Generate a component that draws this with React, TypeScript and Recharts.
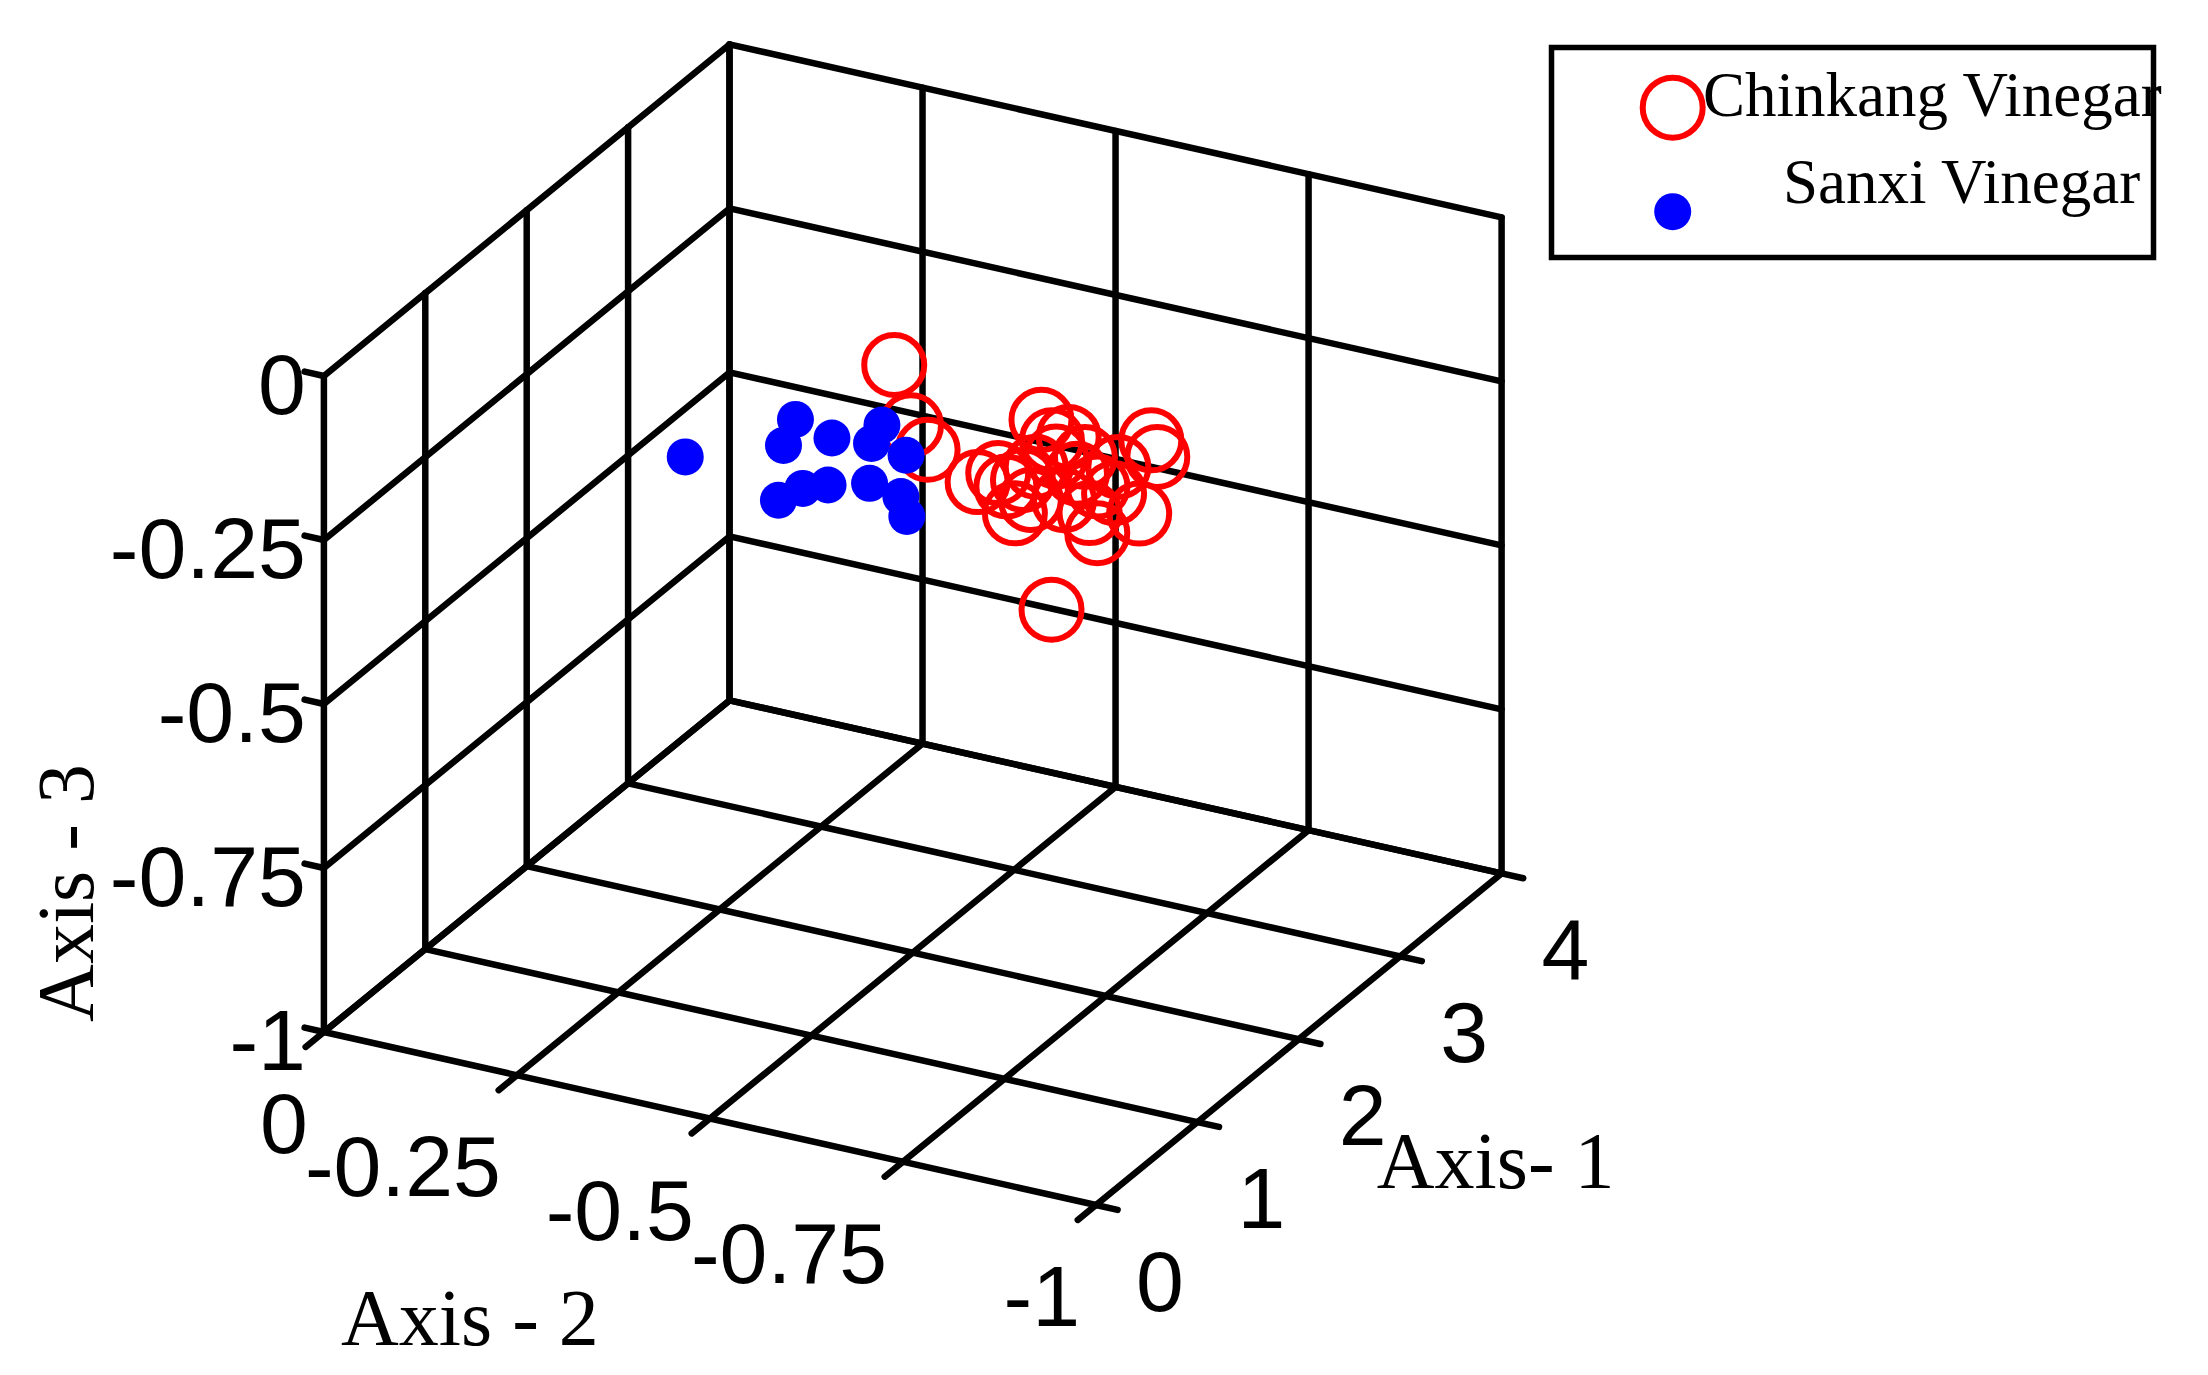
import { ScatterChart, Scatter, XAxis, YAxis, ReferenceLine } from "recharts";

const W = 2208;
const H = 1375;

// tick values of the three axes
const axis1Ticks = [0, 1, 2, 3, 4];
const axis2Ticks = [0, -0.25, -0.5, -0.75, -1];
const axis3Ticks = [0, -0.25, -0.5, -0.75, -1];
const axis1Labels = ["0", "1", "2", "3", "4"];
const axis2Labels = ["0", "-0.25", "-0.5", "-0.75", "-1"];
const axis3Labels = ["0", "-0.25", "-0.5", "-0.75", "-1"];

// [Axis-1, Axis-2, Axis-3]
const chinkang: [number, number, number][] = [
  [3.5, -0.279, -0.352],
  [3.3, -0.327, -0.406],
  [3.7, -0.296, -0.502],
  [3.5, -0.387, -0.502],
  [3.3, -0.496, -0.353],
  [3.7, -0.457, -0.445],
  [3.5, -0.612, -0.379],
  [3.3, -0.646, -0.37],
  [3.7, -0.57, -0.527],
  [3.5, -0.542, -0.539],
  [3.3, -0.509, -0.639],
  [3.7, -0.398, -0.531],
  [3.5, -0.456, -0.511],
  [3.3, -0.542, -0.423],
  [3.7, -0.516, -0.5],
  [3.5, -0.499, -0.5],
  [3.3, -0.59, -0.44],
  [3.7, -0.409, -0.569],
  [3.5, -0.532, -0.511],
  [3.3, -0.515, -0.404],
  [3.7, -0.436, -0.491],
  [3.5, -0.526, -0.427],
  [3.3, -0.44, -0.449],
  [3.7, -0.543, -0.463],
  [3.5, -0.505, -0.402],
  [3.3, -0.472, -0.451],
];

const sanxi: [number, number, number][] = [
  [3.0, -0.074, -0.483],
  [2.8, -0.243, -0.356],
  [3.2, -0.175, -0.464],
  [3.0, -0.264, -0.404],
  [2.8, -0.355, -0.335],
  [3.2, -0.289, -0.431],
  [3.0, -0.36, -0.405],
  [2.8, -0.221, -0.485],
  [3.2, -0.2, -0.523],
  [3.0, -0.259, -0.477],
  [2.8, -0.339, -0.428],
  [3.2, -0.327, -0.502],
  [3.0, -0.361, -0.498],
];

// view of the 3-D box: screen origin and screen step of one unit along each axis
const view = {
  ox: 323.9,
  oy: 376,
  e1: [101.4, -82.9],
  e2: [-772.1, -173],
  e3: [0, -656],
};

const proj = (a1: number, a2: number, a3: number) => ({
  x: view.ox + view.e1[0] * a1 + view.e2[0] * a2 + view.e3[0] * a3,
  y: view.oy + view.e1[1] * a1 + view.e2[1] * a2 + view.e3[1] * a3,
});

const a1Min = Math.min(...axis1Ticks), a1Max = Math.max(...axis1Ticks);
const a2Min = Math.min(...axis2Ticks), a2Max = Math.max(...axis2Ticks);
const a3Min = Math.min(...axis3Ticks), a3Max = Math.max(...axis3Ticks);

type P = { x: number; y: number };
const grid: [P, P][] = [];
// back wall
axis3Ticks.forEach((z) => grid.push([proj(a1Max, a2Max, z), proj(a1Max, a2Min, z)]));
axis2Ticks.forEach((b) => grid.push([proj(a1Max, b, a3Min), proj(a1Max, b, a3Max)]));
// side wall
axis3Ticks.forEach((z) => grid.push([proj(a1Min, a2Max, z), proj(a1Max, a2Max, z)]));
axis1Ticks.forEach((a) => grid.push([proj(a, a2Max, a3Min), proj(a, a2Max, a3Max)]));
// floor
axis2Ticks.forEach((b) => grid.push([proj(a1Min, b, a3Min), proj(a1Max, b, a3Min)]));
axis1Ticks.forEach((a) => grid.push([proj(a, a2Max, a3Min), proj(a, a2Min, a3Min)]));
// tick marks
axis3Ticks.forEach((z) => grid.push([proj(a1Min, a2Max, z), proj(a1Min, a2Max + 0.025, z)]));
axis2Ticks.forEach((b) => grid.push([proj(a1Min, b, a3Min), proj(a1Min - 0.18, b, a3Min)]));
axis1Ticks.forEach((a) => grid.push([proj(a, a2Min, a3Min), proj(a, a2Min - 0.028, a3Min)]));

const redPts = chinkang.map(([a, b, c]) => proj(a, b, c));
const bluePts = sanxi.map(([a, b, c]) => proj(a, b, c));

const lab1 = axis1Ticks.map((a, i) => ({ ...proj(a, a2Min, a3Min), text: axis1Labels[i] }));
const lab2 = axis2Ticks.map((b, i) => ({ ...proj(a1Min, b, a3Min), text: axis2Labels[i] }));
const lab3 = axis3Ticks.map((z, i) => ({ ...proj(a1Min, a2Max, z), text: axis3Labels[i] }));

const title1 = [{ ...proj((a1Min + a1Max) / 2, a2Min, a3Min), text: "Axis- 1" }];
const title2 = [{ ...proj(a1Min, (a2Min + a2Max) / 2, a3Min), text: "Axis - 2" }];
const title3 = [{ ...proj(a1Min, a2Max, (a3Min + a3Max) / 2), text: "Axis - 3" }];

const SANS = "'Liberation Sans', Arial, Helvetica, sans-serif";
const SERIF = "'Liberation Serif', 'Times New Roman', serif";

function textShape(dx: number, dy: number, anchor: string, size: number, family: string, rotate = false) {
  return (p: any) => {
    const x = p.cx + dx;
    const y = p.cy + dy;
    return (
      <text
        x={x}
        y={y}
        textAnchor={anchor}
        fontSize={size}
        fontFamily={family}
        fill="#000"
        transform={rotate ? `rotate(-90 ${x} ${y})` : undefined}
      >
        {p.payload.text}
      </text>
    );
  };
}

function Legend() {
  return (
    <svg
      width={680}
      height={250}
      style={{ position: "absolute", left: 1540, top: 30, overflow: "visible" }}
    >
      <rect x={11.5} y={17.5} width={602} height={210} fill="#fff" stroke="#000" strokeWidth={5.5} />
      <circle cx={132.7} cy={77.7} r={30} fill="none" stroke="#ff0000" strokeWidth={6} />
      <circle cx={132.7} cy={181.7} r={18.5} fill="#0000ff" />
      <text x={163} y={86} fontSize={63} fontFamily={SERIF} fill="#000">
        Chinkang Vinegar
      </text>
      <text x={243} y={173} fontSize={63} fontFamily={SERIF} fill="#000">
        Sanxi Vinegar
      </text>
    </svg>
  );
}

export default function App() {
  return (
    <div style={{ position: "absolute", left: 0, top: 0, width: W, height: H, background: "#fff" }}>
      <ScatterChart width={W} height={H} margin={{ top: 0, right: 0, bottom: 0, left: 0 }}>
        <XAxis type="number" dataKey="x" domain={[0, W]} allowDataOverflow hide />
        <YAxis type="number" dataKey="y" domain={[0, H]} allowDataOverflow reversed hide />
        {grid.map((s, i) => (
          <ReferenceLine
            key={i}
            segment={s}
            stroke="#000"
            strokeWidth={6.5}
            strokeLinecap="round"
            ifOverflow="visible"
          />
        ))}
        <Scatter
          name="Chinkang Vinegar"
          data={redPts}
          isAnimationActive={false}
          shape={(p: any) => (
            <circle cx={p.cx} cy={p.cy} r={30} fill="none" stroke="#ff0000" strokeWidth={6} />
          )}
        />
        <Scatter
          name="Sanxi Vinegar"
          data={bluePts}
          isAnimationActive={false}
          shape={(p: any) => <circle cx={p.cx} cy={p.cy} r={18.5} fill="#0000ff" />}
        />
        <Scatter data={lab1} isAnimationActive={false} shape={textShape(40, 106, "start", 86, SANS)} />
        <Scatter data={lab2} isAnimationActive={false} shape={textShape(-16, 121, "end", 86, SANS)} />
        <Scatter data={lab3} isAnimationActive={false} shape={textShape(-18, 38, "end", 86, SANS)} />
        <Scatter data={title1} isAnimationActive={false} shape={textShape(78, 149, "start", 80, SERIF)} />
        <Scatter data={title2} isAnimationActive={false} shape={textShape(-240, 226, "middle", 80, SERIF)} />
        <Scatter data={title3} isAnimationActive={false} shape={textShape(-231, 189, "middle", 80, SERIF, true)} />
      </ScatterChart>
      <Legend />
    </div>
  );
}
